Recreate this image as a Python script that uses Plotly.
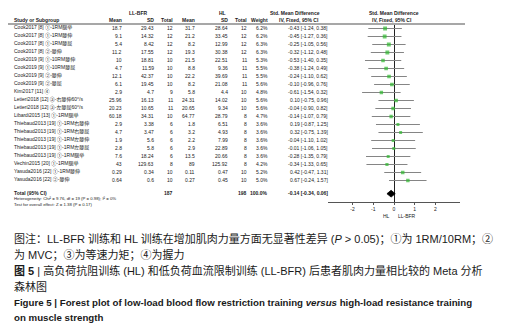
import plotly.graph_objects as go

W, H = 506, 324

studies = [
    "Cook2017 [8] ①-1RM腿举", "Cook2017 [8] ①-1RM膝伸", "Cook2017 [8] ①-1RM膝屈", "Cook2017 [8] ②-膝伸",
    "Cook2019 [9] ①-10RM膝伸", "Cook2019 [9] ①-10RM膝屈", "Cook2019 [9] ②-膝伸", "Cook2019 [9] ②-膝屈",
    "Kim2017 [11] ④", "Letieri2018 [12] ③-右膝伸60°/s", "Letieri2018 [12] ③-左膝屈60°/s",
    "Libardi2015 [13] ①-1RM腿举", "Thiebaud2013 [19] ①-1RM右膝伸", "Thiebaud2013 [19] ①-1RM右膝屈",
    "Thiebaud2013 [19] ①-1RM左膝伸", "Thiebaud2013 [19] ①-1RM左膝屈", "Thiebaud2013 [19] ①-1RM腿举",
    "Vechin2015 [20] ①-1RM腿举", "Yasuda2016 [22] ①-1RM膝伸", "Yasuda2016 [22] ②-膝伸",
]
ll_mean = [18.7, 9.1, 5.4, 11.2, 10, 4.7, 12.1, 6.1, 2.9, 25.96, 20.23, 60.18, 2.9, 4.7, 1.9, 2.8, 7.6, 43, 0.29, 0.64]
ll_sd = [29.43, 14.32, 8.42, 17.55, 18.81, 11.59, 42.37, 19.45, 4.7, 16.13, 10.65, 34.31, 3.38, 3.47, 5.6, 5.8, 18.24, 129.63, 0.34, 0.6]
ll_n = [12, 12, 12, 12, 10, 10, 10, 10, 9, 11, 11, 10, 6, 6, 6, 6, 6, 8, 10, 10]
hl_mean = [31.7, 21.2, 8.2, 19.3, 21.5, 8.8, 22.2, 8.2, 5.8, 24.31, 20.65, 64.77, 1.8, 3.2, 2.2, 2.9, 13.5, 89, 0.11, 0.27]
hl_sd = [28.64, 33.45, 12.99, 30.38, 22.51, 9.36, 39.69, 21.08, 4.4, 14.02, 9.34, 28.79, 6.51, 4.93, 7.99, 22.89, 20.66, 125.92, 0.47, 0.45]
hl_n = [12, 12, 12, 12, 11, 11, 11, 11, 10, 10, 10, 8, 8, 8, 8, 8, 8, 8, 10, 10]
weight = [6.2, 6.2, 6.3, 6.3, 5.3, 5.5, 5.5, 5.6, 4.8, 5.6, 5.6, 4.7, 3.6, 3.6, 3.6, 3.6, 3.6, 4.2, 5.2, 5.0]
smd = [-0.43, -0.45, -0.25, -0.32, -0.53, -0.38, -0.24, -0.10, -0.61, 0.10, -0.04, -0.14, 0.19, 0.32, -0.04, -0.01, -0.28, -0.34, 0.42, 0.67]
ci_lo = [-1.24, -1.27, -1.05, -1.12, -1.40, -1.24, -1.10, -0.96, -1.54, -0.75, -0.90, -1.07, -0.87, -0.75, -1.10, -1.06, -1.35, -1.33, -0.47, -0.24]
ci_hi = [0.38, 0.36, 0.56, 0.48, 0.35, 0.49, 0.62, 0.76, 0.32, 0.96, 0.82, 0.79, 1.25, 1.39, 1.02, 1.05, 0.79, 0.65, 1.31, 1.57]

total_ll_n, total_hl_n, total_weight = 187, 198, 100.0
total_smd, total_lo, total_hi = -0.14, -0.34, 0.06
heterogeneity = "Heterogeneity: Chi² = 9.76, df = 19 (P = 0.98); I² = 0%"
overall = "Test for overall effect: Z = 1.38 (P = 0.17)"
tick_vals = [-2, -1, 0, 1, 2]
tick_text = ["-2", "-1", "0", "1", "2"]

caption_lines = [
    "图注：LL-BFR 训练和 HL 训练在增加肌肉力量方面无显著性差异 (<i>P</i> > 0.05)；①为 1RM/10RM；②",
    "为 MVC；③为等速力矩；④为握力",
    "<b>图 5</b> | 高负荷抗阻训练 (HL) 和低负荷血流限制训练 (LL-BFR) 后患者肌肉力量相比较的 Meta 分析",
    "森林图",
    "<b>Figure 5 | Forest plot of low-load blood flow restriction training <i>versus</i> high-load resistance training</b>",
    "<b>on muscle strength</b>",
]

FONT = "Arial, Liberation Sans, Noto Sans CJK SC, sans-serif"
TXT = "#222222"


def px(x):
    return x / W


def py(y):
    return 1 - y / H


def fmt(v):
    return f"{v:g}"


n = len(studies)
rows = list(range(1, n + 1))
total_row = 21.65

fig = go.Figure()

# CI lines
xs, ys = [], []
for r, lo, hi in zip(rows, ci_lo, ci_hi):
    xs += [lo, hi, None]
    ys += [r, r, None]
fig.add_trace(go.Scatter(x=xs, y=ys, mode="lines", line=dict(color="#858585", width=1),
                         hoverinfo="skip", showlegend=False))
# squares
fig.add_trace(go.Scatter(x=smd, y=rows, mode="markers",
                         marker=dict(symbol="square", color="#2eb82e",
                                     size=[1.55 * w ** 0.5 for w in weight], line=dict(width=0)),
                         showlegend=False))
# diamond
fig.add_trace(go.Scatter(x=[total_lo, total_smd, total_hi, total_smd, total_lo],
                         y=[total_row, total_row - 0.42, total_row, total_row + 0.42, total_row],
                         mode="lines", fill="toself", fillcolor="#000000",
                         line=dict(color="#000000", width=0.8), showlegend=False))

ann = []


def A(text, x, y, xanchor="left", size=5, bold=False, yref="paper", xref="paper", color=TXT,
      family=FONT, yshift=0):
    if bold:
        text = f"<b>{text}</b>"
    ann.append(dict(text=text, x=x, y=y, xref=xref, yref=yref, xanchor=xanchor, yanchor="middle",
                    showarrow=False, yshift=yshift, font=dict(size=size, color=color, family=family)))


# headers
A("LL-BFR", px(130), py(5), "center", bold=True)
A("HL", px(214), py(5), "center", bold=True)
A("Std. Mean Difference", px(287), py(5), "center", bold=True)
A("Std. Mean Difference", px(386), py(5), "center", bold=True)
hdr2 = [("Study or Subgroup", 4, "left"), ("Mean", 115.7, "right"), ("SD", 148, "right"),
        ("Total", 167, "right"), ("Mean", 189, "right"), ("SD", 221.7, "right"),
        ("Total", 241, "right"), ("Weight", 262, "right")]
for t, x, a in hdr2:
    A(t, px(x), py(12.5), a, bold=True)
A("IV, Fixed, 95% CI", px(291), py(12.5), "center", bold=True)
A("IV, Fixed, 95% CI", px(384), py(12.5), "center", bold=True)

# rows
YS = 1
for i, r in enumerate(rows):
    A(studies[i], px(4), r, "left", yref="y", yshift=YS)
    A(fmt(ll_mean[i]), px(115.5), r, "right", yref="y", yshift=YS)
    A(fmt(ll_sd[i]), px(147.7), r, "right", yref="y", yshift=YS)
    A(str(ll_n[i]), px(166.7), r, "right", yref="y", yshift=YS)
    A(fmt(hl_mean[i]), px(189), r, "right", yref="y", yshift=YS)
    A(fmt(hl_sd[i]), px(221.7), r, "right", yref="y", yshift=YS)
    A(str(hl_n[i]), px(240.7), r, "right", yref="y", yshift=YS)
    A(f"{weight[i]:.1f}%", px(261.7), r, "right", yref="y", yshift=YS)
    A(f"{smd[i]:.2f} [{ci_lo[i]:.2f}, {ci_hi[i]:.2f}]", px(321.7), r, "right", yref="y", yshift=YS)

# total
A("Total (95% CI)", px(4), total_row, "left", yref="y", bold=True, yshift=YS)
A(str(total_ll_n), px(166.7), total_row, "right", yref="y", bold=True, yshift=YS)
A(str(total_hl_n), px(240.7), total_row, "right", yref="y", bold=True, yshift=YS)
A(f"{total_weight:.1f}%", px(261.7), total_row, "right", yref="y", bold=True, yshift=YS)
A(f"{total_smd:.2f} [{total_lo:.2f}, {total_hi:.2f}]", px(321.7), total_row, "right", yref="y",
  bold=True, yshift=YS)
A(heterogeneity, px(4), py(191), "left", size=4.3)
A(overall, px(4), py(196), "left", size=4.3)

# favours labels
A("HL", -0.08, py(207.5), "right", xref="x", size=5)
A("LL-BFR", 0.08, py(207.5), "left", xref="x", size=5)

# caption
cap_y = [231, 246.5, 262.5, 278, 294, 309.5]
cap_size = [11, 11, 11, 11, 9.7, 9.7]
for t, y, s in zip(caption_lines, cap_y, cap_size):
    A(t, px(4), py(y), "left", size=s, color="#1a1a1a",
      family="Arial, Liberation Sans, Noto Sans CJK SC, sans-serif")

y_top_px, y_bot_px = 17, 194
fig.update_layout(
    width=W, height=H, margin=dict(l=0, r=0, t=0, b=0),
    paper_bgcolor="white", plot_bgcolor="white",
    showlegend=False, annotations=ann,
    shapes=[dict(type="line", xref="paper", yref="paper", x0=0, x1=px(457), y0=py(16), y1=py(16),
                 line=dict(color="#8a8a8a", width=1.5))],
    xaxis=dict(domain=[px(320.3), px(451.7)], range=[-3.17, 3.17], showgrid=False,
               zeroline=True, zerolinecolor="#222222", zerolinewidth=1,
               showline=True, linecolor="#555555", linewidth=1,
               ticks="outside", ticklen=2, tickcolor="#555555",
               tickvals=tick_vals, ticktext=tick_text,
               tickfont=dict(size=5, color=TXT, family=FONT), fixedrange=True),
    yaxis=dict(domain=[py(y_bot_px), py(y_top_px)],
               range=[1 + (y_bot_px - 20.5) / 8, 1 + (y_top_px - 20.5) / 8],
               showgrid=False, zeroline=False, showticklabels=False, showline=False, ticks=""),
)

fig.write_html("out.html")
